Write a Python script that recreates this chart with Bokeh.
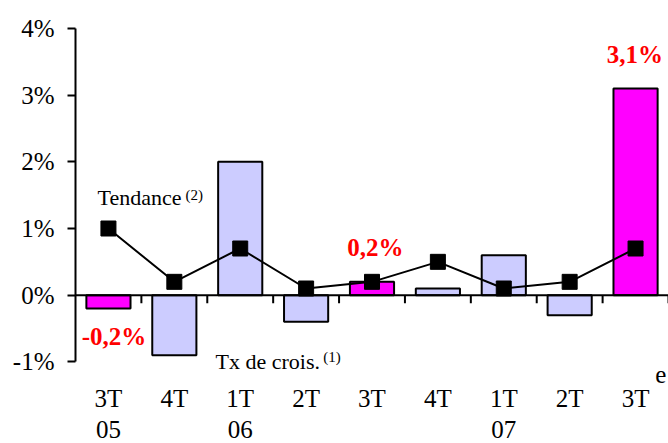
from bokeh.plotting import figure
from bokeh.models import Range1d, FixedTicker, Label, Span, ColumnDataSource, LinearAxis
from bokeh.embed import file_html
from bokeh.resources import INLINE

quarters = ["3T", "4T", "1T", "2T", "3T", "4T", "1T", "2T", "3T"]
years = ["05", "", "06", "", "", "", "07", "", ""]
growth = [-0.2, -0.9, 2.0, -0.4, 0.2, 0.1, 0.6, -0.3, 3.1]
trend = [1.0, 0.2, 0.7, 0.1, 0.2, 0.5, 0.1, 0.2, 0.7]
highlight = [True, False, False, False, True, False, False, False, True]
y_ticks = [-1, 0, 1, 2, 3, 4]

FONT = "Liberation Serif"
LAVENDER = "#CCCCFF"
MAGENTA = "#FF00FF"

n = len(growth)
xc = [i + 0.5 for i in range(n)]

p = figure(frame_width=593, frame_height=356, output_backend="svg", toolbar_location=None,
           x_range=Range1d(0, n), y_range=Range1d(-1.34, 4),
           min_border_left=75, min_border_right=0, min_border_top=28, min_border_bottom=0,
           x_axis_location=None)
p.grid.visible = False
p.outline_line_color = None
p.background_fill_color = "white"

# y axis
ya = p.yaxis[0]
ya.bounds = (-1, 4)
ya.ticker = FixedTicker(ticks=y_ticks)
ya.major_label_overrides = {t: f"{t}%" for t in y_ticks}
ya.major_tick_out = 8
ya.major_tick_in = 0
ya.minor_tick_out = 0
ya.minor_tick_in = 0
ya.axis_line_width = 2
ya.major_tick_line_width = 2
ya.major_label_text_font = FONT
ya.major_label_text_font_size = "25px"
ya.major_label_text_color = "black"
ya.major_label_standoff = 13

def cat_axis(labels, standoff):
    ax = LinearAxis(ticker=FixedTicker(ticks=xc),
                    major_label_overrides={x: t for x, t in zip(xc, labels)})
    ax.axis_line_color = None
    ax.major_tick_line_color = None
    ax.minor_tick_line_color = None
    ax.major_tick_out = 0
    ax.major_label_text_font = FONT
    ax.major_label_text_font_size = "25px"
    ax.major_label_text_color = "black"
    ax.major_label_standoff = standoff
    p.add_layout(ax, "below")

cat_axis(quarters, 0)
cat_axis([y if y else " " for y in years], 1)

# bars
colors = [MAGENTA if h else LAVENDER for h in highlight]
src = ColumnDataSource(dict(x=xc, top=growth, color=colors))
p.vbar(x="x", width=0.67, top="top", bottom=0, source=src,
       fill_color="color", line_color="black", line_width=2)

# zero line with boundary ticks
p.add_layout(Span(location=0, dimension="width", line_color="black", line_width=2))
bounds = list(range(1, n + 1))
p.segment(x0=bounds, y0=[0] * len(bounds), x1=bounds, y1=[-0.12] * len(bounds),
          line_color="black", line_width=2)

# trend
p.line(xc, trend, line_color="black", line_width=2)
p.scatter(xc, trend, marker="square", size=15, fill_color="black", line_color="black")

def lab(x, y, text, size="22px", bold=False, color="black", align="center", base="middle"):
    p.add_layout(Label(x=x, y=y, text=text, text_font=FONT, text_font_size=size,
                       text_font_style="bold" if bold else "normal", text_color=color,
                       text_align=align, text_baseline=base))

# value labels
lab(0.584, -0.62, "-0,2%", size="25px", bold=True, color="red")
lab(4.55, 0.71, "0,2%", size="25px", bold=True, color="red")
lab(8.49, 3.61, "3,1%", size="25px", bold=True, color="red")

# series labels
lab(0.334, 1.47, "Tendance", size="22px", align="left")
lab(1.67, 1.5, "(2)", size="15px", align="left")
lab(2.125, -1.0, "Tx de crois.", size="22px", align="left")
lab(3.76, -0.93, "(1)", size="15px", align="left")
lab(8.80, -1.19, "e", size="25px", align="left")

open("out.html", "w").write(file_html(p, INLINE))
